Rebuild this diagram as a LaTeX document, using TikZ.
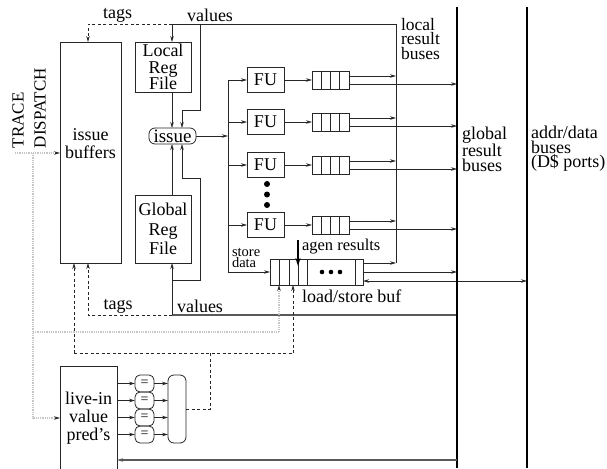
\documentclass[tikz,border=0pt]{standalone}
\usepackage{fontspec}
\setmainfont{Liberation Serif}
\usetikzlibrary{arrows.meta}
\begin{document}
\begin{tikzpicture}[x=1pt,y=-1pt,
  every node/.style={inner sep=0pt,outer sep=0pt},
  ln/.style={line width=0.8pt,draw=black!85},
  box/.style={draw=black!85,line width=0.8pt,rectangle},
  arr/.style={-{Stealth[length=6pt,width=3.5pt]}},
  dsh/.style={dash pattern=on 3pt off 2.5pt,line width=0.8pt,draw=black!85},
  dotl/.style={dash pattern=on 0.9pt off 0.9pt,draw=gray!45,line width=1.4pt},
  bus/.style={line width=1.8pt},
  gline/.style={line width=1.4pt,draw=gray!70!black},
  txt/.style={font=\fontsize{18}{14}\selectfont,align=center},
]
\useasboundingbox (0,0) rectangle (607,468);

% helper coordinates
\coordinate (tv) at (172,24);
\coordinate (ta) at (88,24);
\coordinate (ts) at (200,24);
\coordinate (ix) at (182,0);
\coordinate (lbtop) at (396,24);
\coordinate (lbus) at (396,0);
\coordinate (gbus) at (457,0);
\coordinate (abus) at (527,0);
\coordinate (dist) at (228,0);
\coordinate (vb) at (172,315);
\coordinate (tb) at (88,315);
\coordinate (dd) at (74,353);
\coordinate (de) at (293,353);
\coordinate (dl) at (279,332);
\coordinate (dv) at (33,332);
\coordinate (tr) at (15,153);
\coordinate (dt) at (33,153);
\coordinate (bl) at (0,460);

% boxes
\node[box,minimum width=61,minimum height=221] (ib) at (90.5,152.5) {};
\node[txt,font=\fontsize{18}{18}\selectfont] (ibt) at (90.5,144) {issue\\buffers};
\node[box,minimum width=56,minimum height=50,align=center,font=\fontsize{18}{16.5}\selectfont] (lrf) at (163,67) {Local\\Reg\\File};
\node[box,minimum width=56,minimum height=68,align=center,font=\fontsize{18}{19.5}\selectfont] (grf) at (163,229) {Global\\Reg\\File};
\node[draw=black!85,line width=0.8pt,rounded corners=6,minimum width=47,minimum height=16,font=\fontsize{19}{19}\selectfont] (iss) at (172.5,136) {issue};

\node[rotate=90,anchor=west,align=left,font=\fontsize{17}{22}\selectfont] (td) at (29,148) {TRACE\\DISPATCH};

% top tags / values
\draw[dsh,arr] (tv) -- (ta) -- (ta |- ib.north);
\draw[ln,arr] (tv) -- (tv |- lrf.north);
\draw[ln] (tv) -- (lbtop) -- (lbus |- 0,263);
\draw[ln,arr] (ts) -- (200,110) -- (182,110) -- (iss.north -| ix);
\draw[ln,arr] (lrf.south -| tv) -- (iss.north -| tv);
\draw[ln,arr] (grf.north -| tv) -- (iss.south -| tv);
\draw[ln,arr] (172,280) -- (200,280) -- (200,178) -- (182,178) -- (iss.south -| ix);
\node[txt] (tagt) at (117.5,15) {tags};
\node[txt] (valt) at (210,15) {values};

% bottom tags / values
\draw[gline] (vb) -- (vb -| gbus);
\draw[ln,arr] (vb) -- (grf.south -| vb);
\draw[dsh,arr] (vb) -- (tb) -- (ib.south -| tb);
\node[txt] (tagb) at (118,306) {tags};
\node[txt] (valb) at (200,306) {values};

% issue to FUs
\draw[ln,arr] (iss.east) -- (iss.east -| dist);
\node[box,minimum width=93,minimum height=26] (lsb) at (316.5,272) {};
\foreach \i/\c in {1/80,2/122,3/165,4/225}{
  \node[box,minimum width=37,minimum height=25,font=\fontsize{18}{18}\selectfont] (fu\i) at (265.5,\c) {FU};
  \node[box,minimum width=37,minimum height=18] (q\i) at (330.5,\c) {};
  \foreach \d in {321.25,330.5,339.75} \draw[ln] (\d,\c-9) -- (\d,\c+9);
  \draw[ln,arr] (dist |- fu\i) -- (fu\i.west);
  \draw[ln,arr] (fu\i.east) -- (q\i.west);
  \path ([yshift=4pt]q\i.east) coordinate (qa\i) ([yshift=-4pt]q\i.east) coordinate (qb\i);
  \draw[ln,arr] (qa\i) -- (qa\i -| lbus);
  \draw[ln,arr] (qb\i) -- (qb\i -| gbus);
}
\draw[ln] (dist |- fu1) -- (dist |- lsb);
\draw[ln,arr] (dist |- lsb) -- (lsb.west);
\foreach \y in {184,194.5,205} \fill (267,\y) circle (3);

% load/store buffer
\foreach \d in {279,289,298,307,355} \draw[ln] (\d,259) -- (\d,285);
\foreach \d in {322,331,340} \fill (\d,272) circle (2.3);
\path ([yshift=9pt]lsb.east) coordinate (la) (lsb.east) coordinate (lb) ([yshift=-9pt]lsb.east) coordinate (lc);
\draw[ln,arr] (la) -- (la -| lbus);
\draw[ln,arr] (lb) -- (lb -| gbus);
\draw[ln,{Stealth[length=6pt,width=3.5pt]}-{Stealth[length=6pt,width=3.5pt]}] (lc) -- (lc -| abus);
\draw[line width=2pt,-{Stealth[length=8pt,width=5pt]}] (298,240) -- (298,266);
\node[anchor=west,font=\fontsize{16.5}{16.5}\selectfont] (agt) at (302,247) {agen results};
\node[anchor=west,font=\fontsize{18}{18}\selectfont] (lsbt) at (302,296) {load/store buf};
\node[anchor=west,align=left,font=\fontsize{14.5}{11.5}\selectfont] (sdt) at (232,258) {store\\data};

% buses
\draw[bus] (gbus |- 0,7) -- (gbus |- 0,468);
\draw[bus] (abus |- 0,7) -- (abus |- 0,468);
\node[anchor=west,align=left,font=\fontsize{17.5}{14.5}\selectfont] (lbt) at (401,39) {local\\result\\buses};
\node[anchor=west,align=left,font=\fontsize{18}{14.5}\selectfont] (gbt) at (462,149) {global\\result\\buses};
\node[anchor=west,align=left,font=\fontsize{18}{14.5}\selectfont] (abt) at (531,149) {addr/data\\buses\\(D\$ ports)};

% live-in value prediction
\node[box,minimum width=57,minimum height=104,align=center,font=\fontsize{18}{18}\selectfont] (li) at (88.5,418) {live-in\\value\\pred's};
\node[draw=black!85,line width=0.8pt,rounded corners=6,minimum width=18,minimum height=68] (bb) at (177,409) {};
\foreach \i/\c in {1/383.5,2/400.5,3/417.5,4/434.5}{
  \node[draw=black!85,line width=0.8pt,rounded corners=5,minimum width=19,minimum height=17,font=\fontsize{14}{14}\selectfont] (cmp\i) at (144.5,\c) {=};
  \draw[ln,arr] (li.east |- cmp\i) -- (cmp\i.west);
  \draw[ln,arr] (cmp\i.east) -- (cmp\i.east -| bb.west);
}
\draw[dsh] (bb.east) -- (210,409) -- (210,353);
\draw[dsh] (dd) -- (de);
\draw[dsh,arr] (dd) -- (ib.south -| dd);
\draw[dsh,arr] (de) -- (lsb.south -| de);
\draw[gline,arr] (gbus |- bl) -- (li.east |- bl);

% dotted trace dispatch lines
\draw[dotl] (tr) -- ([xshift=-5pt]ib.west |- tr);
\draw[ln,arr] ([xshift=-5pt]ib.west |- tr) -- (ib.west |- tr);
\draw[dotl] (dt) -- (dt |- li) -- ([xshift=-5pt]li.west);
\draw[ln,arr] ([xshift=-5pt]li.west) -- (li.west);
\draw[dotl] (dv) -- (dl) -- ([yshift=-5pt]dl |- lsb.south);
\draw[ln,arr] ([yshift=-5pt]dl |- lsb.south) -- (dl |- lsb.south);
\end{tikzpicture}
\end{document}
